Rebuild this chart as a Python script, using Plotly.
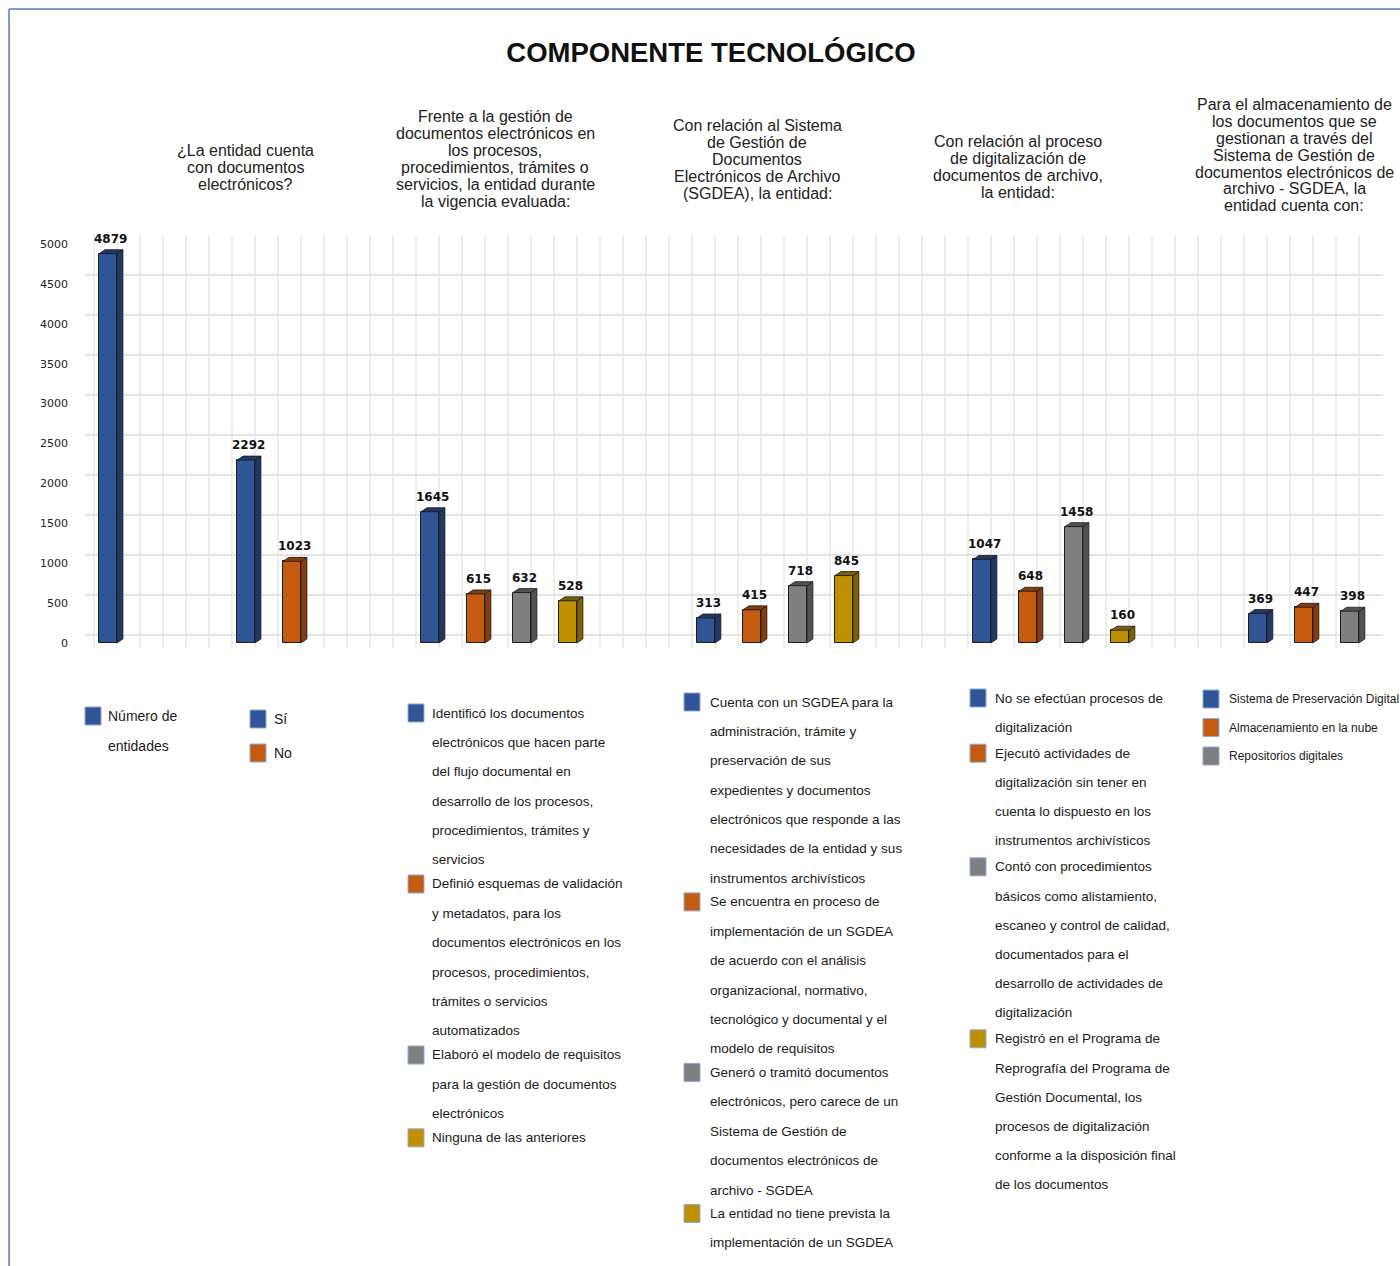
import plotly.graph_objects as go

# ---------------- data ----------------
title_text = "COMPONENTE TECNOLÓGICO"

group_titles = [
    [],
    ["¿La entidad cuenta", "con documentos", "electrónicos?"],
    ["Frente a la gestión de", "documentos electrónicos en", "los procesos,",
     "procedimientos, trámites o", "servicios, la entidad durante", "la vigencia evaluada:"],
    ["Con relación al Sistema", "de Gestión de", "Documentos",
     "Electrónicos de Archivo", "(SGDEA), la entidad:"],
    ["Con relación al proceso", "de digitalización de", "documentos de archivo,", "la entidad:"],
    ["Para el almacenamiento de", "los documentos que se", "gestionan a través del",
     "Sistema de Gestión de", "documentos electrónicos de", "archivo - SGDEA, la",
     "entidad cuenta con:"],
]

values_g0 = [4879]
values_g1 = [2292, 1023]
values_g2 = [1645, 615, 632, 528]
values_g3 = [313, 415, 718, 845]
values_g4 = [1047, 648, 1458, 160]
values_g5 = [369, 447, 398]
group_values = [values_g0, values_g1, values_g2, values_g3, values_g4, values_g5]

labels_g0 = [["Número de", "entidades"]]
labels_g1 = [["Sí"], ["No"]]
labels_g2 = [
    ["Identificó los documentos", "electrónicos que hacen parte", "del flujo documental en",
     "desarrollo de los procesos,", "procedimientos, trámites y", "servicios"],
    ["Definió esquemas de validación", "y metadatos, para los", "documentos electrónicos en los",
     "procesos, procedimientos,", "trámites o servicios", "automatizados"],
    ["Elaboró el modelo de requisitos", "para la gestión de documentos", "electrónicos"],
    ["Ninguna de las anteriores"],
]
labels_g3 = [
    ["Cuenta con un SGDEA para la", "administración, trámite y", "preservación de sus",
     "expedientes y documentos", "electrónicos que responde a las",
     "necesidades de la entidad y sus", "instrumentos archivísticos"],
    ["Se encuentra en proceso de", "implementación de un SGDEA", "de acuerdo con el análisis",
     "organizacional, normativo,", "tecnológico y documental y el", "modelo de requisitos"],
    ["Generó o tramitó documentos", "electrónicos, pero carece de un", "Sistema de Gestión de",
     "documentos electrónicos de", "archivo - SGDEA"],
    ["La entidad no tiene prevista la", "implementación de un SGDEA"],
]
labels_g4 = [
    ["No se efectúan procesos de", "digitalización"],
    ["Ejecutó actividades de", "digitalización sin tener en", "cuenta lo dispuesto en los",
     "instrumentos archivísticos"],
    ["Contó con procedimientos", "básicos como alistamiento,", "escaneo y control de calidad,",
     "documentados para el", "desarrollo de actividades de", "digitalización"],
    ["Registró en el Programa de", "Reprografía del Programa de", "Gestión Documental, los",
     "procesos de digitalización", "conforme a la disposición final", "de los documentos"],
]
labels_g5 = [["Sistema de Preservación Digital"], ["Almacenamiento en la nube"], ["Repositorios digitales"]]
group_labels = [labels_g0, labels_g1, labels_g2, labels_g3, labels_g4, labels_g5]

y_ticks = [0, 500, 1000, 1500, 2000, 2500, 3000, 3500, 4000, 4500, 5000]

# ---------------- styles / layout ----------------
front_colors = ["#2F5597", "#C55A11", "#7F7F7F", "#BF9000"]
side_colors = ["#1F3864", "#843C0C", "#515151", "#7F6000"]
edge_color = "#1c1c1c"

W, H = 1400, 1266
L, R, T, B = 85, 1383, 235, 648

def fx(p):
    return (p - L) / (R - L)

def fy(p):
    return (B - p) / (B - T)

GAP_SLOTS = 2
BAR_W = 0.39
DX = 0.13     # depth offset (x units)
DY = 50       # depth offset (y units)

header_pos = [None, (245, 150), (495, 116), (757, 125), (1018, 141), (1294, 104)]
HEADER_STEP = 17
# square x, text x, first line y, line step, item gap, font size
legend_pos = [
    (85, 106, 716, 30, 26, 14),
    (250, 272, 719, 30, 34, 14),
    (408, 430, 713, 29.4, 24, 13.5),
    (684, 708, 702, 29.4, 23.5, 13.5),
    (970, 993, 698, 29.2, 26, 13.5),
    (1203, 1227, 699, 28.5, 28.5, 12),
]

fig = go.Figure()
shapes = []
annotations = []

slot = 0
for g, vals in enumerate(group_values):
    xs = [slot + i for i in range(len(vals))]
    cols = [front_colors[i] for i in range(len(vals))]
    fig.add_trace(go.Bar(
        x=xs, y=vals, width=BAR_W,
        marker=dict(color=cols, line=dict(color=edge_color, width=1)),
        showlegend=False, hoverinfo="y",
    ))
    for i, (x, v) in enumerate(zip(xs, vals)):
        xr = x + BAR_W / 2
        xl = x - BAR_W / 2
        shapes.append(dict(
            type="path", xref="x", yref="y",
            path=f"M {xr},0 L {xr + DX},{DY} L {xr + DX},{v + DY} L {xr},{v} Z",
            fillcolor=side_colors[i], line=dict(color=edge_color, width=0.8), layer="above",
        ))
        shapes.append(dict(
            type="path", xref="x", yref="y",
            path=f"M {xl},{v} L {xl + DX},{v + DY} L {xr + DX},{v + DY} L {xr},{v} Z",
            fillcolor=side_colors[i], line=dict(color=edge_color, width=0.8), layer="above",
        ))
        annotations.append(dict(
            x=x + DX / 2, y=v + DY, xref="x", yref="y", text=f"<b>{v}</b>",
            showarrow=False, yanchor="bottom", yshift=2,
            font=dict(family="DejaVu Sans", size=12, color="#111111"),
        ))
    slot += len(vals) + GAP_SLOTS

# helper trace so the back-wall grid axis (y2) is drawn
fig.add_trace(go.Scatter(x=[None], y=[None], yaxis="y2", mode="markers",
                         showlegend=False, hoverinfo="skip"))

for g, lines in enumerate(group_titles):
    if not lines:
        continue
    cx, y0 = header_pos[g]
    for k, line in enumerate(lines):
        annotations.append(dict(
            x=fx(cx), y=fy(y0 + k * HEADER_STEP), xref="paper", yref="paper",
            text=line, showarrow=False, xanchor="center", yanchor="middle",
            font=dict(family="Liberation Sans, Arial, sans-serif", size=16, color="#222222"),
        ))

for g, items in enumerate(group_labels):
    sx, tx, y, step, gap, fsize = legend_pos[g]
    font = dict(family="Liberation Sans, Arial, sans-serif", size=fsize, color="#1a1a1a")
    for i, lines in enumerate(items):
        shapes.append(dict(
            type="rect", xref="paper", yref="paper",
            x0=fx(sx), x1=fx(sx + 16), y0=fy(y - 9), y1=fy(y + 9),
            fillcolor=front_colors[i], line=dict(color="#8EA9DB", width=1),
        ))
        for k, line in enumerate(lines):
            annotations.append(dict(
                x=fx(tx), y=fy(y), xref="paper", yref="paper",
                text=line, showarrow=False, xanchor="left", yanchor="middle",
                font=font,
            ))
            if k < len(lines) - 1:
                y += step
        y += gap

shapes.append(dict(type="line", xref="paper", yref="paper",
                   x0=fx(9), x1=fx(9), y0=fy(9), y1=fy(H + 5),
                   line=dict(color="#4F7CC0", width=1.5)))
shapes.append(dict(type="line", xref="paper", yref="paper",
                   x0=fx(9), x1=fx(W + 5), y0=fy(9), y1=fy(9),
                   line=dict(color="#4F7CC0", width=1.5)))

fig.update_layout(
    width=W, height=H,
    margin=dict(l=L, r=W - R, t=T, b=H - B, autoexpand=False),
    paper_bgcolor="white", plot_bgcolor="white",
    title=dict(text=f"<b>{title_text}</b>", x=711 / W, xanchor="center",
               y=1 - 52 / H, yanchor="middle",
               font=dict(family="Liberation Sans, Arial, sans-serif", size=27.5, color="#111111")),
    xaxis=dict(range=[-0.5, 27.72], showticklabels=False, ticks="",
               showgrid=True, gridcolor="#EDEDED", gridwidth=1.5, tick0=0.2, dtick=0.5,
               zeroline=False, showline=False, fixedrange=True),
    yaxis=dict(range=[-63, 5113], tickvals=y_ticks, ticks="", showgrid=False,
               zeroline=False, showline=False, ticklabelstandoff=16,
               tickfont=dict(family="DejaVu Sans", size=11, color="#222222")),
    yaxis2=dict(range=[-162.5, 5000], overlaying="y", anchor="x", side="left",
                tickvals=y_ticks, showticklabels=False, ticks="",
                showgrid=True, gridcolor="#E3E3E3", gridwidth=2, zeroline=False, showline=False),
    bargap=0, shapes=shapes, annotations=annotations, showlegend=False,
)

fig.write_html("out.html")
